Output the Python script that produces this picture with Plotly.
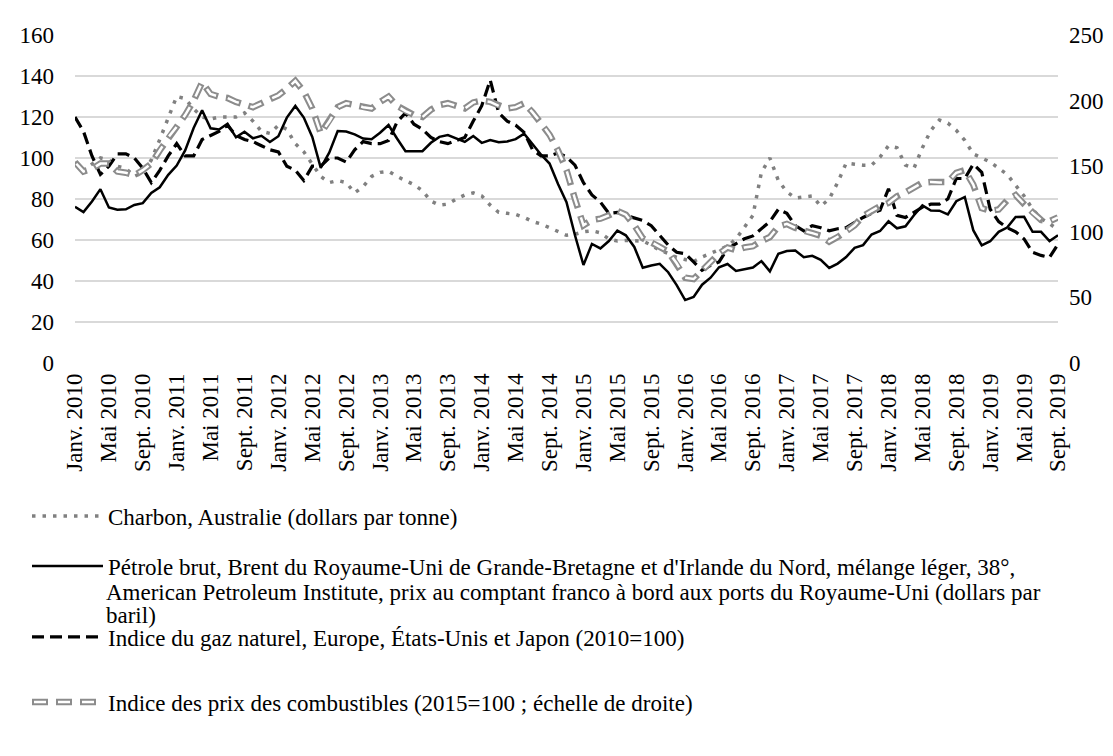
import plotly.graph_objects as go

# ---------------- data ----------------
MONTH_NAMES = ["Janv.", "Févr.", "Mars", "Avr.", "Mai", "Juin",
               "Juil.", "Août", "Sept.", "Oct.", "Nov.", "Déc."]
YEARS = list(range(2010, 2020))
categories = [f"{m} {y}" for y in YEARS for m in MONTH_NAMES][:117]  # Janv. 2010 .. Sept. 2019
tick_labels = categories[::4]

# Charbon, Australie (dollars par tonne) - left axis
coal = [98, 94, 97, 100, 99, 96, 95, 91, 93, 99, 109, 119,
        130, 129, 124, 120, 119, 120, 120, 120, 122, 118, 113, 112,
        116, 114, 107, 103, 97, 91, 88, 89, 88, 83, 86, 91,
        93, 93.5, 91, 89, 87, 84, 79, 77, 77.5, 80, 82, 83,
        81.5, 77, 73.5, 73, 72.5, 71, 69, 67.8, 66, 64.5, 62.3, 62.8,
        64, 64.5, 63.5, 60.5, 59.5, 59.8, 59.8, 59.5, 57.5, 55, 53.5, 51.5,
        50.5, 49.5, 51.7, 53.5, 55, 57, 60.5, 66, 72, 93, 100, 89,
        83.5, 80.5, 81, 81.5, 76.5, 80, 88, 97.5, 97, 96.5, 96.5, 100.5,
        106, 105, 96.5, 95, 105, 113.5, 118.5, 117, 113.5, 108.6, 102, 100,
        98, 95, 92, 86.7, 81.5, 75, 70.5, 68, 65]

# Pétrole brut, Brent (dollars par baril) - left axis
brent = [76.2, 73.6, 78.8, 84.8, 75.9, 74.8, 75.0, 77.1, 78.0, 82.9, 85.7, 91.8,
         96.3, 103.7, 114.6, 123.3, 114.5, 113.9, 116.7, 110.1, 112.8, 109.6, 110.8, 107.8,
         110.6, 119.7, 125.4, 119.7, 110.3, 95.2, 102.6, 113.2, 112.9, 111.5, 109.5, 109.2,
         112.3, 116.1, 109.5, 103.3, 103.3, 103.3, 107.4, 110.3, 111.2, 109.5, 107.9, 110.7,
         107.4, 108.8, 107.7, 108.1, 109.2, 111.9, 106.8, 101.6, 97.3, 87.3, 78.4, 62.3,
         47.8, 58.1, 55.9, 59.5, 64.6, 62.3, 56.6, 46.5, 47.6, 48.4, 44.3, 38.0,
         30.7, 32.2, 38.2, 41.6, 46.7, 48.3, 44.9, 45.8, 46.6, 49.7, 44.7, 53.3,
         54.6, 54.9, 51.6, 52.3, 50.3, 46.4, 48.5, 51.7, 56.2, 57.5, 62.7, 64.4,
         69.1, 65.7, 66.7, 72.1, 76.9, 74.4, 74.3, 72.5, 78.9, 81.0, 64.8, 57.4,
         59.4, 64.0, 66.1, 71.2, 71.3, 64.0, 64.0, 59.5, 62.3]

# Indice du gaz naturel (2010=100) - left axis
gas = [120, 113, 101, 92, 96, 102, 102, 100, 95, 88, 94, 101,
       107, 101, 101, 109, 111, 113, 116, 111, 109, 108, 106, 104,
       103, 96, 94, 89, 96, 96, 100, 100, 98, 104, 108, 107,
       107, 108.5, 117.5, 122, 116.5, 114, 110, 108, 107, 108.5, 110, 118,
       125.5, 138, 122, 118, 116, 112.5, 104, 101, 101, 102.5, 100.5, 96.5,
       88, 82, 78.5, 73, 73.5, 72, 70.7, 69.5, 67, 62.5, 57.5, 54,
       53.3, 49.3, 45.2, 47.6, 49.3, 55.8, 58, 60.6, 62, 65.5, 69, 75,
       73, 67, 64.5, 67, 66, 64.5, 65.5, 66, 68.5, 71, 73, 74.5,
       85, 72, 71, 73.5, 76, 77.5, 77.5, 80, 90, 90, 97, 93,
       75, 69, 66, 64, 60.5, 54, 52.5, 51.5, 58]

# Indice des prix des combustibles (2015=100) - right axis
fuel = [153, 146, 148, 152, 152, 146, 145, 143, 147, 152, 162, 172,
        180, 189, 200, 214, 205, 203, 202, 199, 197, 195, 198, 201,
        204, 209, 215, 207, 194, 175, 184, 195, 198, 197, 195, 194,
        199, 203, 196, 192, 189, 187.5, 193, 196.6, 198, 196, 194, 198.6,
        200, 199, 196, 194, 195, 198, 191, 183, 174, 162, 147, 125,
        105, 109, 110, 112.5, 116, 113, 105, 95, 92.3, 88.5, 85, 76,
        65, 64, 70.7, 77, 83.4, 88, 86, 88, 89, 93, 96, 104,
        106, 103, 100.5, 99, 97, 92.5, 96, 100, 105, 112, 116, 119.5,
        122, 127, 130, 134, 137.5, 138, 137.5, 138, 145, 147, 136, 118,
        116, 117, 124, 128, 121, 114.5, 109, 108, 111]

names = ["Charbon, Australie (dollars par tonne)",
         "Pétrole brut, Brent du Royaume-Uni de Grande-Bretagne et d'Irlande du Nord, mélange léger, 38°,",
         "Indice du gaz naturel, Europe, États-Unis et Japon (2010=100)",
         "Indice des prix des combustibles (2015=100 ; échelle de droite)"]
brent_name_cont = ["American Petroleum Institute, prix au comptant franco à bord aux ports du Royaume-Uni (dollars par",
                   "baril)"]

# ---------------- figure ----------------
FONT = "Liberation Serif, Times New Roman, serif"
FS = 23
W, H = 1113, 756
GREY = "#808080"

fig = go.Figure()
fig.add_trace(go.Scatter(x=categories, y=coal, name=names[0], mode="lines",
                         line=dict(color=GREY, width=3.5, dash="3.5px,7px"),
                         legend="legend"))
fig.add_trace(go.Scatter(x=categories, y=brent, name=names[1], mode="lines",
                         line=dict(color="black", width=2.5), legend="legend2"))
fig.add_trace(go.Scatter(x=categories, y=gas, name=names[2], mode="lines",
                         line=dict(color="black", width=3.2, dash="12px,6px"),
                         legend="legend3"))
fig.add_trace(go.Scatter(x=categories, y=fuel, name=names[3], mode="lines", yaxis="y2",
                         line=dict(color="#8c8c8c", width=6.5, dash="16px,8px"),
                         legend="legend4"))
fig.add_trace(go.Scatter(x=categories, y=fuel, name=" ", mode="lines", yaxis="y2",
                         line=dict(color="white", width=2.5, dash="0px,2px,12px,10px"),
                         legend="legend5"))

L, R, T, B = 67, 1050, 27, 355
LEG_X = 19
Y_OFF = 9

def leg(ypx):
    return dict(x=LEG_X / W, y=1 - (ypx - Y_OFF) / H, xref="container", yref="container",
                xanchor="left", yanchor="middle", orientation="v",
                bgcolor="rgba(0,0,0,0)", borderwidth=0, itemwidth=71,
                font=dict(family=FONT, size=FS, color="black"),
                itemclick=False, itemdoubleclick=False)

# continuation lines of the Brent legend entry (pixel targets -> paper coords)
annotations = []
for txt, ypx in zip(brent_name_cont, [592, 615]):
    px_x, px_y = 96, ypx - 8
    annotations.append(dict(text=txt, x=(px_x - L) / (R - L), y=(B - px_y) / (B - T),
                            xref="paper", yref="paper",
                            showarrow=False, xanchor="left", yanchor="middle",
                            font=dict(family=FONT, size=FS, color="black")))

fig.update_layout(
    width=W, height=H,
    margin=dict(l=L, r=W - R, t=T, b=H - B, pad=0, autoexpand=False),
    paper_bgcolor="white", plot_bgcolor="white",
    font=dict(family=FONT, size=FS, color="black"),
    showlegend=True,
    legend=leg(517),
    legend2=leg(567),
    legend3=leg(638),
    legend4=leg(703),
    legend5=leg(703),
    annotations=annotations,
    xaxis=dict(type="category", range=[0, len(categories) - 1],
               tickmode="array", tickvals=tick_labels, ticktext=tick_labels,
               tickangle=-90, showgrid=False, showline=False, zeroline=False,
               ticks="", ticklabelstandoff=5, tickfont=dict(family=FONT, size=FS)),
    yaxis=dict(range=[0, 160], dtick=20, tick0=0, showgrid=True, gridcolor="#d9d9d9",
               gridwidth=1.5, zeroline=False, showline=False, ticks="",
               ticklabelstandoff=20, tickfont=dict(family=FONT, size=FS)),
    yaxis2=dict(range=[0, 250], dtick=50, tick0=0, overlaying="y", side="right",
                showgrid=False, zeroline=False, showline=False, ticks="",
                ticklabelstandoff=10, tickfont=dict(family=FONT, size=FS)),
)

fig.write_html("out.html")
